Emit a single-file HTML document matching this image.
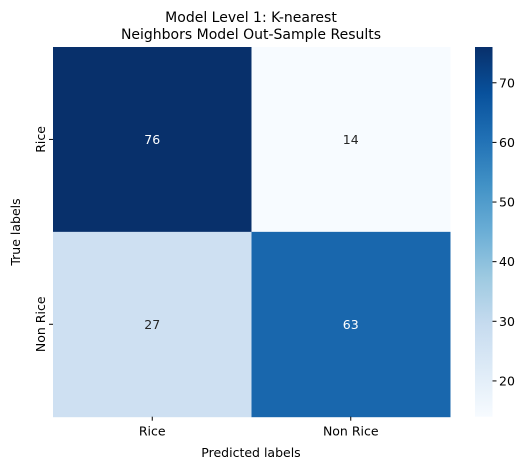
<!DOCTYPE html>
<html><head><meta charset="utf-8"><style>
body{margin:0;background:#fff;}
svg{display:block;font-family:"DejaVu Sans","Liberation Sans",sans-serif;}
</style></head><body>
<svg id="c" width="530" height="470">
<defs>
<linearGradient id="blues" x1="0" y1="1" x2="0" y2="0">
<stop offset="0" stop-color="#f7fbff"/><stop offset="0.125" stop-color="#deebf7"/>
<stop offset="0.25" stop-color="#c6dbef"/><stop offset="0.375" stop-color="#9ecae1"/>
<stop offset="0.5" stop-color="#6baed6"/><stop offset="0.625" stop-color="#4292c6"/>
<stop offset="0.75" stop-color="#2171b5"/><stop offset="0.875" stop-color="#08519c"/>
<stop offset="1" stop-color="#08306b"/></linearGradient>
</defs>
<text x="251" y="22" text-anchor="middle" font-size="14">Model Level 1: K-nearest</text>
<text x="251" y="39" text-anchor="middle" font-size="14">Neighbors Model Out-Sample Results</text>
<g id="cells"></g>
<text x="251" y="457" text-anchor="middle" font-size="12.5">Predicted labels</text>
<text transform="translate(20,232) rotate(-90)" text-anchor="middle" font-size="12.5">True labels</text>
<rect x="475" y="47" width="17.5" height="369.7" fill="url(#blues)"/>
<g id="cbticks"></g>
</svg>
<script>
const labels=["Rice","Non Rice"];
const values=[[76,14],[27,63]];
const cbTicks=[20,30,40,50,60,70];
const vmin=14,vmax=76;
const X0=53,X1=450,Y0=47,Y1=416.7;
const stops=["#f7fbff","#deebf7","#c6dbef","#9ecae1","#6baed6","#4292c6","#2171b5","#08519c","#08306b"];
function hex(c){return [1,3,5].map(i=>parseInt(c.substr(i,2),16));}
function color(v){let t=(v-vmin)/(vmax-vmin)*8;let i=Math.min(7,Math.floor(t));let f=t-i;
 const a=hex(stops[i]),b=hex(stops[i+1]);return "rgb("+a.map((x,k)=>Math.round(x+(b[k]-x)*f)).join(",")+")";}
const ns="http://www.w3.org/2000/svg";
const g=document.getElementById("cells"),cb=document.getElementById("cbticks");
const cw=(X1-X0)/labels.length,ch=(Y1-Y0)/labels.length;
function el(t,a,p){const e=document.createElementNS(ns,t);for(const k in a)e.setAttribute(k,a[k]);p.appendChild(e);return e;}
values.forEach((row,r)=>row.forEach((v,c)=>{
 const rc=el("rect",{x:X0+c*cw,y:Y0+r*ch,width:cw+0.5,height:ch+0.5,fill:color(v)},g);
 
 
 const tx=el("text",{x:X0+(c+0.5)*cw,y:Y0+(r+0.5)*ch+4.5,"text-anchor":"middle","font-size":"12.5",fill:(v-vmin)/(vmax-vmin)>0.5?"#fff":"#262626"},g);
 tx.textContent=v;
 
 
}));
labels.forEach((l,i)=>{
 const cx=X0+(i+0.5)*cw;
 el("line",{x1:cx,x2:cx,y1:Y1,y2:Y1+4,stroke:"#000"},g);
 const t=el("text",{x:cx,y:Y1+19,"text-anchor":"middle","font-size":"12.5"},g);t.textContent=l;
 
 
 const cy=Y0+(i+0.5)*ch;
 el("line",{x1:X0-4,x2:X0,y1:cy,y2:cy,stroke:"#000"},g);
 const s=el("text",{transform:`translate(${X0-8},${cy}) rotate(-90)`,"text-anchor":"middle","font-size":"12.5"},g);s.textContent=l;
 
 
});
cbTicks.forEach(v=>{
 const y=Y1-(v-vmin)/(vmax-vmin)*(Y1-Y0);
 el("line",{x1:492.5,x2:496.5,y1:y,y2:y,stroke:"#000"},cb);
 const t=el("text",{x:499,y:y+4.5,"font-size":"12.5"},cb);t.textContent=v;
 
 
});
</script>
</body></html>
